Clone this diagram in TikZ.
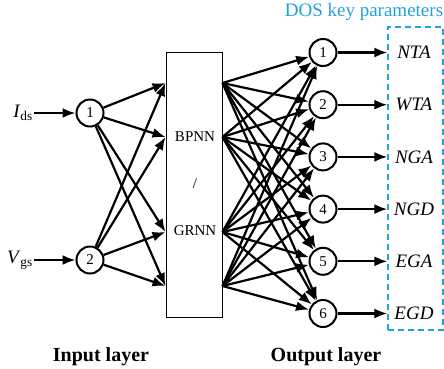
\documentclass[tikz,border=0pt]{standalone}
\usepackage{fontspec}
\setmainfont{Liberation Serif}
\usetikzlibrary{arrows.meta,positioning,calc}
\definecolor{dosblue}{HTML}{1FA3DF}

\begin{document}
\begin{tikzpicture}[x=1pt,y=-1pt,
  font=\fontsize{19}{22}\selectfont,
  neuron/.style={draw,circle,line width=2pt,minimum size=27pt,inner sep=0pt,font=\fontsize{15}{17}\selectfont},
  flow/.style={-{Latex[length=13pt,width=10pt]},line width=2.2pt},
  param/.style={font=\itshape\fontsize{19}{22}\selectfont},
  layer/.style={font=\bfseries\fontsize{20}{24}\selectfont}]
  \useasboundingbox (0,0) rectangle (444,368);
  % input layer
  \node[neuron] (in1) at (90,113) {1};
  \node[neuron] (in2) at (90,260) {2};
  \node[anchor=east,inner sep=1pt] (ids) at (34,113) {\textit{I}\textsubscript{ds}};
  \node[anchor=east,inner sep=1pt] (vgs) at (34,260) {\textit{V}\textsubscript{gs}};
  \draw[flow] (ids) -- (in1);
  \draw[flow] (vgs) -- (in2);
  % hidden block
  \node[draw,line width=1pt,minimum width=56pt,minimum height=265pt,inner sep=0pt] (hidden) at (194,184.5) {};
  \node[font=\fontsize{15}{17}\selectfont] (bpnn) at (195,137) {BPNN};
  \node[font=\fontsize{15}{17}\selectfont] (slash) at (195,184) {/};
  \node[font=\fontsize{15}{17}\selectfont] (grnn) at (195,231) {GRNN};
  \foreach \y [count=\i] in {83,137,232,286} {
    \path (hidden.west) ++(0,\y-184.5) coordinate (hl\i);
    \path (hidden.east) ++(0,\y-184.5) coordinate (hr\i);
  }
  % output layer
  \node[draw=dosblue,dashed,dash pattern=on 6pt off 4pt,line width=1.3pt,minimum width=55pt,minimum height=303pt,inner sep=0pt] (dos) at (415.5,178.5) {};
  \node[text=dosblue] (title) at (364,12) {DOS key parameters};
  \foreach \lab [count=\k] in {NTA,WTA,NGA,NGD,EGA,EGD} {
    \node[neuron] (out\k) at (323,{52.5+52.2*(\k-1)}) {\k};
    \node[param] (par\k) at (414,{52.5+52.2*(\k-1)}) {\lab};
    \draw[flow] (out\k) -- (out\k -| dos.west);
  }
  % connections
  \foreach \i in {1,2}
    \foreach \j in {1,...,4}
      \draw[flow] (in\i) -- (hl\j);
  \foreach \j in {1,...,4}
    \foreach \k in {1,...,6}
      \draw[flow] (hr\j) -- (out\k);
  \node[layer] (inlabel) at (101,357) {Input layer};
  \node[layer] (outlabel) at (326,357) {Output layer};
\end{tikzpicture}
\end{document}
